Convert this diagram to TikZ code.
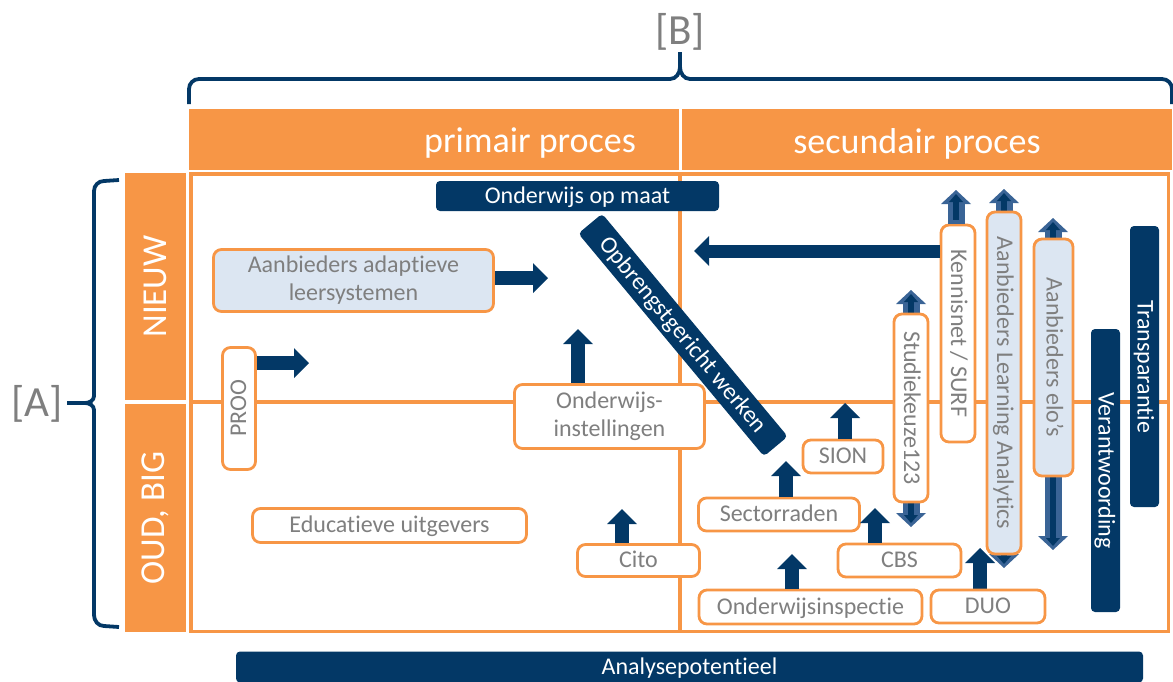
\documentclass[tikz,border=0pt]{standalone}
\usepackage{fontspec}
\setmainfont{Carlito}[Ligatures=NoCommon]
\usepackage{tikz}
\usetikzlibrary{arrows.meta, positioning, calc, backgrounds}

\definecolor{navy}{RGB}{3,56,102}
\definecolor{accent}{RGB}{247,150,70}
\definecolor{paleblue}{RGB}{220,230,242}
\definecolor{midblue}{RGB}{58,100,150}
\definecolor{greytext}{RGB}{127,127,127}

\begin{document}
\begin{tikzpicture}[
        x=1pt, y=-1pt,
        >={Triangle[length=15pt, width=30pt, line width=0pt]},
        actor/.style={
            rectangle,
            draw=accent,
            line width=2.8pt,
            fill=white,
            rounded corners=8pt,
            align=center,
            text=greytext,
            inner sep=2pt,
            font=\fontsize{24}{28}\selectfont
        },
        supplier/.style={
            actor,
            fill=paleblue
        },
        theme/.style={
            rectangle,
            fill=navy,
            rounded corners=4pt,
            text=white,
            inner sep=2pt,
            text height=18pt,
            text depth=4pt,
            font=\fontsize{24}{28}\selectfont
        },
        oneline/.style={
            text height=18pt,
            text depth=4pt
        },
        axis/.style={
            rectangle,
            fill=accent,
            text=white,
            inner sep=0pt,
            font=\fontsize{35}{40}\selectfont
        },
        headtext/.style={
            text=white,
            inner sep=0pt,
            font=\fontsize{36}{40}\selectfont
        },
        bracket/.style={
            text=greytext,
            inner sep=0pt,
            font=\fontsize{43}{48}\selectfont
        },
        frame/.style={
            draw=accent,
            line width=3.2pt
        },
        brace/.style={
            draw=navy,
            line width=3.8pt
        },
        push/.style={
            draw=navy,
            line width=14pt,
            ->
        },
        feed/.style={
            draw=midblue,
            line width=17pt,
            >={Triangle[length=14pt, width=30pt, line width=0pt]}
        },
        core/.style={
            draw=navy,
            line width=6pt,
            shorten >=4pt,
            shorten <=4pt,
            >={Triangle[length=8pt, width=14pt, line width=0pt]}
        }
    ]

    \useasboundingbox (0,0) rectangle (1173,681);

    % header and side axis
    \fill[accent] (189,109) rectangle (678.5,170);
    \fill[accent] (681.5,109) rectangle (1172,170);
    \node (primair) [headtext, anchor=base] at (530,152) {primair proces};
    \node (secundair) [headtext, anchor=base] at (917,153) {secundair proces};

    \node (nieuw) [axis, rotate=90, minimum width=227pt, minimum height=61pt] at (155.5,286.5) {NIEUW};
    \node (oud) [axis, rotate=90, minimum width=228pt, minimum height=61pt] at (155.5,518) {OUD, BIG};

    \draw[frame] (191,174) rectangle (1168.7,631.5);
    \draw[frame] (191,402) -- (1168.7,402);
    \draw[frame] (680,174) -- (680,631.5);

    % braces
    \draw[brace] (189,104) -- (189,89) to[out=90,in=180] (199,79) -- (670,79)
        to[out=0,in=-90] (680,67) -- (680,52) -- (680,67) to[out=-90,in=180] (690,79)
        -- (1162,79) to[out=0,in=90] (1172,89) -- (1172,104);
    \draw[brace] (119,180) -- (104,181) to[out=180,in=90] (94,191) -- (94,396)
        to[out=-90,in=0] (85,403) -- (67,403) -- (85,403) to[out=0,in=90] (94,410)
        -- (94,615) to[out=-90,in=180] (104,626) -- (119,627);

    \node (bLabel) [bracket] at (680,32) {[B]};
    \node (aLabel) [bracket] at (37,404) {[A]};

    % themes
    \node (maat) [theme, minimum width=283pt, minimum height=30pt] at (577.5,196) {Onderwijs op maat};

    \node (opbr) [theme, rotate=-50.2, minimum width=290pt, minimum height=31pt] at (683,335) {Opbrengstgericht werken};

    \node (verant) [theme, rotate=-90, minimum width=283pt, minimum height=29pt] at (1105.5,470.5) {Verantwoording};

    \node (transp) [theme, rotate=-90, minimum width=281pt, minimum height=29pt] at (1144.5,366.5) {Transparantie};

    \node (analyse) [theme, minimum width=907pt, minimum height=31pt] at (689.5,667) {Analysepotentieel};

    % parties
    \node (adapt) [supplier, minimum width=280pt, minimum height=62pt] at (353.5,280.5) {Aanbieders adaptieve\\leersystemen};

    \node (proo) [actor, oneline, rotate=90, minimum width=122pt, minimum height=33pt] at (239,408.5) {PROO};

    \node (instel) [actor, minimum width=190pt, minimum height=64pt] at (609.5,416.5) {Onderwijs-\\instellingen};

    \node (educ) [actor, oneline, minimum width=274pt, minimum height=34pt] at (389.5,525.5) {Educatieve uitgevers};

    \node (cito) [actor, oneline, minimum width=122pt, minimum height=32pt] at (638.5,560.5) {Cito};

    \node (sector) [actor, oneline, minimum width=161pt, minimum height=33pt] at (779,514.5) {Sectorraden};

    \node (sion) [actor, oneline, minimum width=80pt, minimum height=33pt] at (843,456.5) {SION};

    \node (cbs) [actor, oneline, minimum width=123pt, minimum height=33pt] at (899.5,560.5) {CBS};

    \node (insp) [actor, oneline, minimum width=223pt, minimum height=34pt] at (810.5,607) {Onderwijsinspectie};

    \node (duo) [actor, oneline, minimum width=114pt, minimum height=33pt] at (988,606.5) {DUO};

    \node (stud) [actor, oneline, rotate=-90, minimum width=188pt, minimum height=34pt] at (911,408) {Studiekeuze123};

    \node (kennis) [actor, oneline, rotate=-90, minimum width=217pt, minimum height=34pt] at (958,333.5) {Kennisnet / SURF};

    \node (la) [supplier, oneline, rotate=-90, minimum width=342pt, minimum height=34pt] at (1004,383) {Aanbieders Learning Analytics};

    \node (elo) [supplier, oneline, rotate=-90, minimum width=237pt, minimum height=39pt] at (1053.5,357.5) {Aanbieders elo’s};

    % arrow ends
    \coordinate (adaptTip) at (548,278);
    \coordinate (prooTip) at (309,363);
    \coordinate (instelTip) at (578,329);
    \coordinate (citoTip) at (622,509);
    \coordinate (sectorTip) at (786,461);
    \coordinate (sionTip) at (845,403);
    \coordinate (cbsTip) at (875,508);
    \coordinate (inspTip) at (792,554);
    \coordinate (duoTip) at (980,548);
    \coordinate (returnTip) at (694,251);
    \coordinate (kennisTip) at (956,190);
    \coordinate (studTop) at (911,290);
    \coordinate (studBot) at (911,527);
    \coordinate (laTop) at (1004,189);
    \coordinate (laBot) at (1004,568);
    \coordinate (eloTop) at (1053,218);
    \coordinate (eloBot) at (1053,550);

    \draw[push] (adapt.east |- adaptTip) -- (adaptTip);
    \draw[push] (proo.south |- prooTip) -- (prooTip);
    \draw[push] (instelTip |- instel.north) -- (instelTip);
    \draw[push] (citoTip |- cito.north) -- (citoTip);
    \draw[push] (sectorTip |- sector.north) -- (sectorTip);
    \draw[push] (sionTip |- sion.north) -- (sionTip);
    \draw[push] (cbsTip |- cbs.north) -- (cbsTip);
    \draw[push] (inspTip |- insp.north) -- (inspTip);
    \draw[push, line width=13pt] (kennis.south |- returnTip) -- (returnTip);

    \draw[feed, ->] (kennisTip |- kennis.west) -- (kennisTip);
    \draw[core, ->] (kennisTip |- kennis.west) -- (kennisTip);

    \begin{scope}[on background layer]
        \draw[feed, <->] (studBot) -- (studTop);
        \draw[core, <->] (studBot) -- (studTop);
        \draw[feed, <->] (laBot) -- (laTop);
        \draw[core, <->] (laBot) -- (laTop);
        \draw[feed, <->] (eloBot) -- (eloTop);
        \draw[core, <->] (eloBot) -- (eloTop);
        \draw[push] (duoTip |- duo.north) -- (duoTip);
    \end{scope}

\end{tikzpicture}
\end{document}
